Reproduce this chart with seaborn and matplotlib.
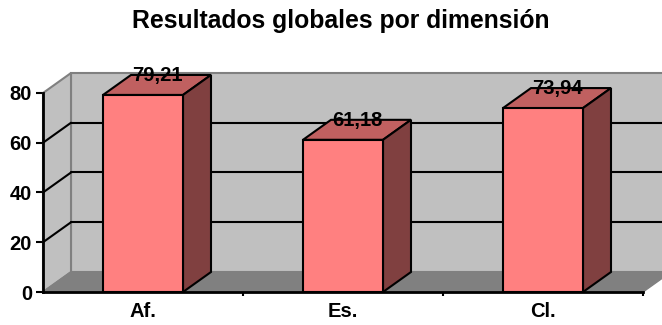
import matplotlib
matplotlib.use("Agg")
import matplotlib.pyplot as plt
from matplotlib.patches import Polygon
import seaborn as sns
import pandas as pd

# Data
categories = ["Af.", "Es.", "Cl."]
values = [79.21, 61.18, 73.94]
value_labels = ["79,21", "61,18", "73,94"]
y_ticks = [0, 20, 40, 60, 80]

sns.set_style("white")
plt.rcParams["font.family"] = ["Liberation Sans", "DejaVu Sans"]
plt.rcParams["text.color"] = "black"
plt.rcParams["xtick.color"] = "black"
plt.rcParams["ytick.color"] = "black"
plt.rcParams["xtick.labelcolor"] = "black"
plt.rcParams["ytick.labelcolor"] = "black"

W, H = 662, 325
fig = plt.figure(figsize=(W / 100, H / 100), dpi=100)
# front plane of the plot box, in pixel-derived fractions
left_px, right_px, zero_px, top_px = 43, 643, 292, 93
ax = fig.add_axes([left_px / W, (H - zero_px) / H,
                   (right_px - left_px) / W, (zero_px - top_px) / H])

df = pd.DataFrame({"cat": categories, "val": values})
sns.barplot(data=df, x="cat", y="val", ax=ax, width=0.4, color="#ff8080",
            saturation=1, edgecolor="black", linewidth=1.5, zorder=5)

ax.set_xlim(-0.5, 2.5)
ax.set_ylim(0, 80)

# depth offset of the 3D box, in data units (28 px right, 20 px up)
px_x = 3.0 / (right_px - left_px)
px_y = 80.0 / (zero_px - top_px)
dx, dy = 28 * px_x, 20 * px_y
x0, x1, ytop = -0.5, 2.5, 80

def poly(pts, fc, ec, lw=1.0, z=1):
    p = Polygon(pts, closed=True, facecolor=fc, edgecolor=ec, linewidth=lw,
                zorder=z, clip_on=False, joinstyle="miter")
    ax.add_patch(p)

# walls and floor
poly([(x0 + dx, dy), (x1 + dx, dy), (x1 + dx, ytop + dy), (x0 + dx, ytop + dy)],
     "#c0c0c0", "#808080", 1.5, 0.5)
poly([(x0, 0), (x0 + dx, dy), (x0 + dx, ytop + dy), (x0, ytop)],
     "#c0c0c0", "#808080", 1.5, 0.6)
poly([(x0, 0), (x1, 0), (x1 + dx, dy), (x0 + dx, dy)],
     "#808080", "#808080", 1.0, 0.7)

# gridlines on the back and side walls
for v in y_ticks[1:-1]:
    ax.plot([x0 + dx, x1 + dx], [v + dy, v + dy], color="black", lw=1.5,
            zorder=1, clip_on=False)
    ax.plot([x0, x0 + dx], [v, v + dy], color="black", lw=1.5,
            zorder=1, clip_on=False)

# top and side faces of each bar, plus value labels
for bar, v, lab in zip(ax.patches, values, value_labels):
    if not hasattr(bar, "get_width"):
        continue
    bx0 = bar.get_x()
    bx1 = bx0 + bar.get_width()
    poly([(bx0, v), (bx1, v), (bx1 + dx, v + dy), (bx0 + dx, v + dy)],
         "#c06060", "black", 1.5, 4)
    poly([(bx1, 0), (bx1 + dx, dy), (bx1 + dx, v + dy), (bx1, v)],
         "#804040", "black", 1.5, 4)
    ax.text((bx0 + bx1) / 2 + dx / 2, v + dy - 6 * px_y, lab, ha="center",
            va="baseline", fontsize=14.5, fontweight="bold", color="black",
            zorder=10)

# axes styling
for s in ["top", "right"]:
    ax.spines[s].set_visible(False)
for s in ["left", "bottom"]:
    ax.spines[s].set_color("black")
    ax.spines[s].set_linewidth(2)
    ax.spines[s].set_zorder(8)
ax.set_facecolor("none")
ax.set_yticks(y_ticks)
ax.set_yticklabels([str(t) for t in y_ticks], fontsize=14.5, fontweight="bold")
ax.set_xticks(range(len(categories)))
ax.set_xticklabels(categories, fontsize=14.5, fontweight="bold")
ax.set_xticks([0.5, 1.5, 2.5], minor=True)
ax.tick_params(axis="y", which="major", direction="out", length=5, width=1.5,
               color="black", pad=3, left=True)
ax.tick_params(axis="x", which="major", length=0, pad=7)
ax.tick_params(axis="x", which="minor", direction="out", length=3, width=1.5,
               color="black", bottom=True)
ax.set_xlabel("")
ax.set_ylabel("")

fig.text(341 / W, 1 - 28 / H, "Resultados globales por dimensión",
         ha="center", va="baseline", fontsize=17.8, fontweight="bold",
         color="black")

fig.savefig("out.png", dpi=100, facecolor="white")
